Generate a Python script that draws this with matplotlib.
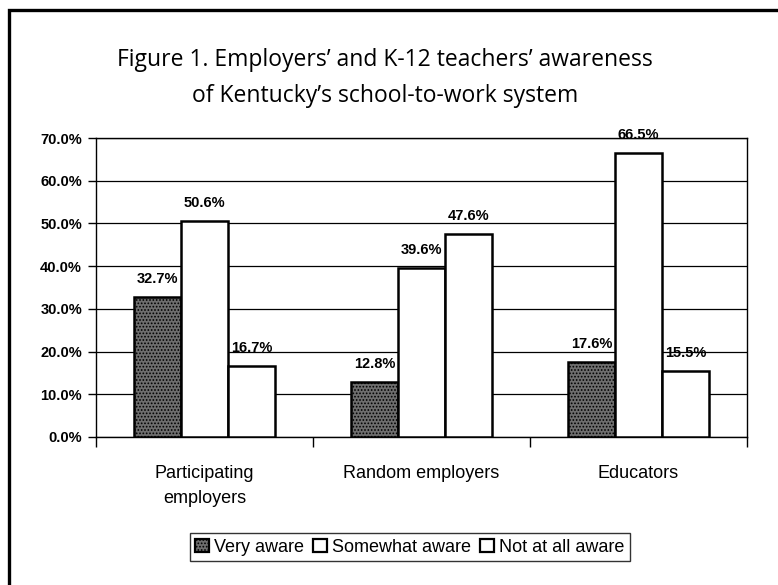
import matplotlib.pyplot as plt
import matplotlib.patches as mpatches
import numpy as np

# survey results, share of respondents
groups = ["Participating\nemployers", "Random employers", "Educators"]
very_aware = [32.7, 12.8, 17.6]
somewhat_aware = [50.6, 39.6, 66.5]
not_aware = [16.7, 47.6, 15.5]
series_names = ["Very aware", "Somewhat aware", "Not at all aware"]
y_ticks = [0, 10, 20, 30, 40, 50, 60, 70]

title = "Figure 1. Employers\u2019 and K-12 teachers\u2019 awareness\nof Kentucky\u2019s school-to-work system"

plt.rcParams['font.family'] = ['Liberation Sans', 'DejaVu Sans']
plt.rcParams['hatch.linewidth'] = 0.8

fig = plt.figure(figsize=(7.78, 5.85), dpi=100)

# outer frame round the whole chart (right and bottom edges run off the page)
frame = mpatches.Rectangle((9 / 778, -0.05), 1.05, 1.05 - 10 / 585,
                           transform=fig.transFigure, fill=False,
                           edgecolor='black', linewidth=2.4)
fig.patches.append(frame)

fig.text(0.495, 1 - 78 / 585, title, ha='center', va='center',
         fontsize=16.5, family='Open Sans', linespacing=1.62)

ax = fig.add_axes([96 / 778, 1 - 437 / 585, (747 - 96) / 778, (437 - 138) / 585])

x = np.arange(len(groups))
w = 0.217
styles = [
    dict(facecolor='#6e6e6e', hatch='.....'),
    dict(facecolor='white'),
    dict(facecolor='white'),
]
all_series = [very_aware, somewhat_aware, not_aware]
for i, (vals, st) in enumerate(zip(all_series, styles)):
    bars = ax.bar(x + (i - 1) * w, vals, width=w, edgecolor='black',
                  linewidth=1.8, label=series_names[i], zorder=3, **st)
    for b, v in zip(bars, vals):
        ax.annotate(f"{v:.1f}%", (b.get_x() + b.get_width() / 2, v),
                    xytext=(0, 11), textcoords='offset pixels',
                    ha='center', va='bottom', fontsize=10.5,
                    weight='bold', zorder=4)

ax.set_xlim(-0.5, 2.5)
ax.set_ylim(0, 70)
ax.set_yticks(y_ticks)
ax.set_yticklabels([f"{t:.1f}%" for t in y_ticks], fontsize=10.5, weight='bold')
ax.yaxis.grid(True, color='black', linewidth=0.9, zorder=0)
ax.set_axisbelow(True)

ax.set_xticks([-0.5, 0.5, 1.5, 2.5])
ax.set_xticklabels([])
ax.set_xticks(x, minor=True)
ax.set_xticklabels(groups, minor=True, fontsize=13, linespacing=1.6)
ax.tick_params(axis='x', which='minor', length=0, pad=20)
ax.tick_params(axis='x', which='major', length=7, width=1, direction='out')
ax.tick_params(axis='y', length=6, width=1, direction='out', pad=4)

for s in ax.spines.values():
    s.set_linewidth(1.0)

handles = [mpatches.Patch(facecolor=st['facecolor'], hatch=st.get('hatch'),
                          edgecolor='black', linewidth=1.6, label=n)
           for st, n in zip(styles, series_names)]
leg = fig.legend(handles=handles, loc='center', ncol=3,
                 bbox_to_anchor=(410 / 778, 1 - 547 / 585),
                 fontsize=13, frameon=True, fancybox=False,
                 edgecolor='black', handlelength=0.75, handleheight=0.75,
                 handletextpad=0.3, columnspacing=0.5, borderpad=0.3)
leg.get_frame().set_linewidth(1.0)

fig.savefig("out.png", dpi=100)
